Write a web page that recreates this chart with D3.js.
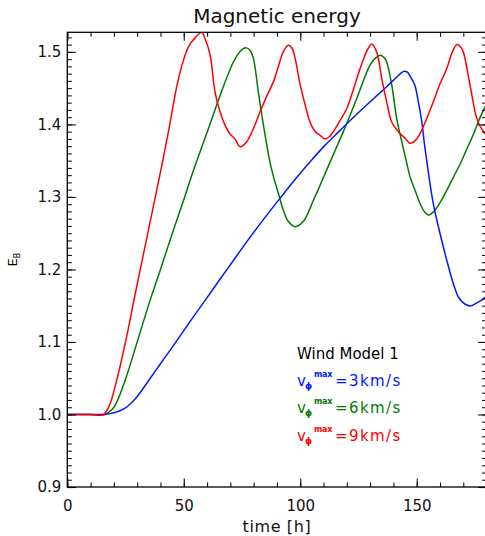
<!DOCTYPE html>
<html lang="en">

<head>
  <meta charset="UTF-8">
  <title>Magnetic energy</title>
  <script src="https://d3js.org/d3.v7.min.js"></script>
  <style>
    body { margin: 0; background: #fff; }
    text { font-family: "DejaVu Sans", sans-serif; fill: #111; }
  </style>
</head>

<body>
  <svg id="energy" width="485" height="536"></svg>

  <script>
    // time [h] and E_B for each wind speed run
    const timeBlue = [0, 10, 16, 18, 21.2, 25, 28.3, 31, 34.1, 40, 46, 52, 59.1, 65, 71, 77, 84, 91.3, 98, 104.9, 110, 115, 121, 128.6, 133, 137.1, 141, 143.5, 144.8, 146, 147.1, 148.3, 149.3, 150.7, 152.2, 153.2, 154.3, 157.1, 160, 162.9, 165.7, 167.9, 170, 172.9, 175.8, 177.5, 180];
    const energyBlue = [1.0, 1.0, 1.0, 1.001, 1.0035, 1.009, 1.0185, 1.029, 1.043, 1.07, 1.097, 1.125, 1.157, 1.184, 1.211, 1.238, 1.268, 1.298, 1.325, 1.351, 1.369, 1.385, 1.404, 1.427, 1.44, 1.452, 1.464, 1.4715, 1.4734, 1.472, 1.467, 1.46, 1.453, 1.431, 1.4034, 1.376, 1.35, 1.291, 1.2495, 1.2127, 1.1806, 1.162, 1.154, 1.1497, 1.154, 1.157, 1.163];

    const timeGreen = [0, 10, 16, 20, 24.8, 30, 35.5, 40, 45, 50, 54.1, 59.9, 65.6, 71.3, 73.8, 75.6, 77, 78.5, 79.9, 82, 84.2, 87, 88.5, 90.6, 92.7, 94.9, 97.8, 101.3, 105.6, 108.5, 112.8, 118.5, 124.3, 130, 132.5, 134.3, 135.8, 137.1, 139.3, 141.4, 143.6, 145.7, 147.1, 149.3, 151.4, 153.5, 155, 157.1, 160, 162.9, 165.7, 168.6, 171.5, 174.3, 177, 180];
    const energyGreen = [1.0, 1.0, 1.0, 1.01, 1.047, 1.1, 1.157, 1.2, 1.249, 1.296, 1.336, 1.388, 1.44, 1.486, 1.499, 1.5047, 1.5055, 1.502, 1.491, 1.445, 1.399, 1.348, 1.328, 1.305, 1.282, 1.266, 1.259, 1.266, 1.295, 1.316, 1.348, 1.39, 1.436, 1.482, 1.492, 1.4955, 1.493, 1.486, 1.454, 1.408, 1.376, 1.347, 1.328, 1.309, 1.291, 1.279, 1.275, 1.279, 1.292, 1.309, 1.327, 1.345, 1.366, 1.386, 1.408, 1.428];

    const timeRed = [0, 10, 15.5, 18, 21.2, 25, 28.6, 35, 41, 44, 47.1, 50, 52, 55, 57.7, 59.1, 61.3, 63.4, 65.6, 67.7, 69.8, 72, 74.2, 77, 80, 82.7, 85.5, 88.5, 90.8, 92.7, 94.9, 96.5, 97.8, 99.9, 102.1, 104.2, 105.6, 107.1, 108.5, 110.6, 112.5, 114.2, 117, 120, 123, 125.7, 127.5, 129.2, 130.7, 132.8, 135, 137.1, 139.3, 142.1, 145, 147.1, 150, 153.5, 157.1, 160, 162.9, 165.3, 167.2, 168.8, 170, 172.9, 175.8, 178, 180];
    const energyRed = [1.0, 1.0, 1.0, 1.012, 1.047, 1.1, 1.1575, 1.257, 1.35, 1.4, 1.454, 1.49, 1.507, 1.52, 1.527, 1.5185, 1.496, 1.445, 1.417, 1.399, 1.387, 1.38, 1.369, 1.376, 1.395, 1.417, 1.438, 1.459, 1.482, 1.5, 1.509, 1.505, 1.491, 1.456, 1.427, 1.403, 1.394, 1.388, 1.385, 1.38, 1.383, 1.39, 1.405, 1.422, 1.45, 1.477, 1.493, 1.505, 1.511, 1.5, 1.463, 1.431, 1.403, 1.39, 1.381, 1.374, 1.38, 1.402, 1.431, 1.456, 1.477, 1.5, 1.51, 1.507, 1.5, 1.454, 1.408, 1.393, 1.385];

    const xMajorTicks = [0, 50, 100, 150];
    const yMajorTicks = [0.9, 1.0, 1.1, 1.2, 1.3, 1.4, 1.5];

    const runs = [
      { label: "=6km/s", color: "#007a00", t: timeGreen, e: energyGreen },
      { label: "=3km/s", color: "#0018ff", t: timeBlue, e: energyBlue },
      { label: "=9km/s", color: "#ff0000", t: timeRed, e: energyRed }
    ];

    const svg = d3.select("#energy");
    const plot = { left: 67.3, right: 486.6, top: 32.3, bottom: 487 };

    const x = d3.scaleLinear().domain([0, 180]).range([plot.left, plot.right]);
    const y = d3.scaleLinear().domain([0.9, 1.527]).range([plot.bottom, plot.top]);

    svg.append("defs").append("clipPath")
      .attr("id", "plotClip")
      .append("rect")
      .attr("x", plot.left).attr("y", plot.top)
      .attr("width", plot.right - plot.left).attr("height", plot.bottom - plot.top);

    // curves
    const line = d3.line()
      .x(d => x(d[0]))
      .y(d => y(d[1]))
      .curve(d3.curveCatmullRom.alpha(0.5));

    const curves = svg.append("g").attr("clip-path", "url(#plotClip)");
    runs.forEach(r => {
      curves.append("path")
        .datum(r.t.map((t, i) => [t, r.e[i]]))
        .attr("d", line)
        .attr("fill", "none")
        .attr("stroke", r.color)
        .attr("stroke-width", 1.5);
    });

    // axes: inward ticks on all four sides
    const xMinor = d3.range(0, 181, 10);
    const yMinor = d3.range(90, 153, 1).map(v => v / 100);

    function addAxis(axis, tx, ty) {
      const g = svg.append("g")
        .attr("transform", `translate(${tx},${ty})`)
        .call(axis);
      g.select(".domain").remove();
      g.selectAll("line").attr("stroke", "#111").attr("stroke-width", 1.1);
      return g;
    }

    addAxis(d3.axisBottom(x).tickValues(xMinor).tickSize(-4.5).tickFormat(""), 0, plot.bottom);
    addAxis(d3.axisTop(x).tickValues(xMinor).tickSize(-4.5).tickFormat(""), 0, plot.top);
    addAxis(d3.axisLeft(y).tickValues(yMinor).tickSize(-4.5).tickFormat(""), plot.left, 0);
    addAxis(d3.axisRight(y).tickValues(yMinor).tickSize(-4.5).tickFormat(""), plot.right, 0);

    const xAxis = addAxis(d3.axisBottom(x).tickValues(xMajorTicks).tickSize(-8.5).tickPadding(13), 0, plot.bottom);
    addAxis(d3.axisTop(x).tickValues(xMajorTicks).tickSize(-8.5).tickFormat(""), 0, plot.top);
    const yAxis = addAxis(d3.axisLeft(y).tickValues(yMajorTicks).tickSize(-8.5).tickPadding(6).tickFormat(d3.format(".1f")), plot.left, 0);
    addAxis(d3.axisRight(y).tickValues(yMajorTicks).tickSize(-8.5).tickFormat(""), plot.right, 0);

    xAxis.selectAll("text").attr("font-size", 15).attr("font-family", null);
    yAxis.selectAll("text").attr("font-size", 15).attr("font-family", null);

    // frame
    svg.append("rect")
      .attr("x", plot.left).attr("y", plot.top)
      .attr("width", plot.right - plot.left).attr("height", plot.bottom - plot.top)
      .attr("fill", "none")
      .attr("stroke", "#000")
      .attr("stroke-width", 1.3);

    // titles
    svg.append("text")
      .attr("x", (plot.left + plot.right) / 2).attr("y", 23)
      .attr("text-anchor", "middle")
      .attr("font-size", 20)
      .text("Magnetic energy");

    svg.append("text")
      .attr("x", (plot.left + plot.right) / 2).attr("y", 532)
      .attr("text-anchor", "middle")
      .attr("font-size", 16)
      .style("letter-spacing", "0.6px")
      .text("time [h]");

    const yLabel = svg.append("text")
      .attr("transform", `translate(17,${(plot.top + plot.bottom) / 2}) rotate(-90)`)
      .attr("text-anchor", "middle")
      .attr("font-size", 13)
      .style("fill", "#000");
    yLabel.append("tspan").text("E");
    yLabel.append("tspan").attr("font-size", 8).attr("dy", 3).text("B");

    // legend
    const legend = svg.append("g").attr("transform", "translate(297,359)");
    legend.append("text")
      .attr("x", 0).attr("y", 0)
      .attr("font-size", 15)
      .style("fill", "#000")
      .text("Wind Model 1");

    const legendOrder = [runs[1], runs[0], runs[2]];
    legendOrder.forEach((r, i) => {
      const row = legend.append("g")
        .attr("transform", `translate(0,${27.2 * (i + 1)})`);
      row.append("text").attr("x", 0).attr("y", 0).attr("font-size", 15)
        .style("fill", r.color).text("v");
      row.append("text").attr("x", 8).attr("y", 3).attr("font-size", 9).attr("font-weight", 700)
        .style("fill", r.color).text("\u03d5");
      row.append("text").attr("x", 17).attr("y", -9).attr("font-size", 8).attr("font-weight", 700)
        .style("fill", r.color).style("letter-spacing", "-0.3px").text("max");
      row.append("text").attr("x", 38).attr("y", 0).attr("font-size", 15)
        .style("fill", r.color).style("letter-spacing", "1.4px").text(r.label);
    });
  </script>

</body>

</html>
